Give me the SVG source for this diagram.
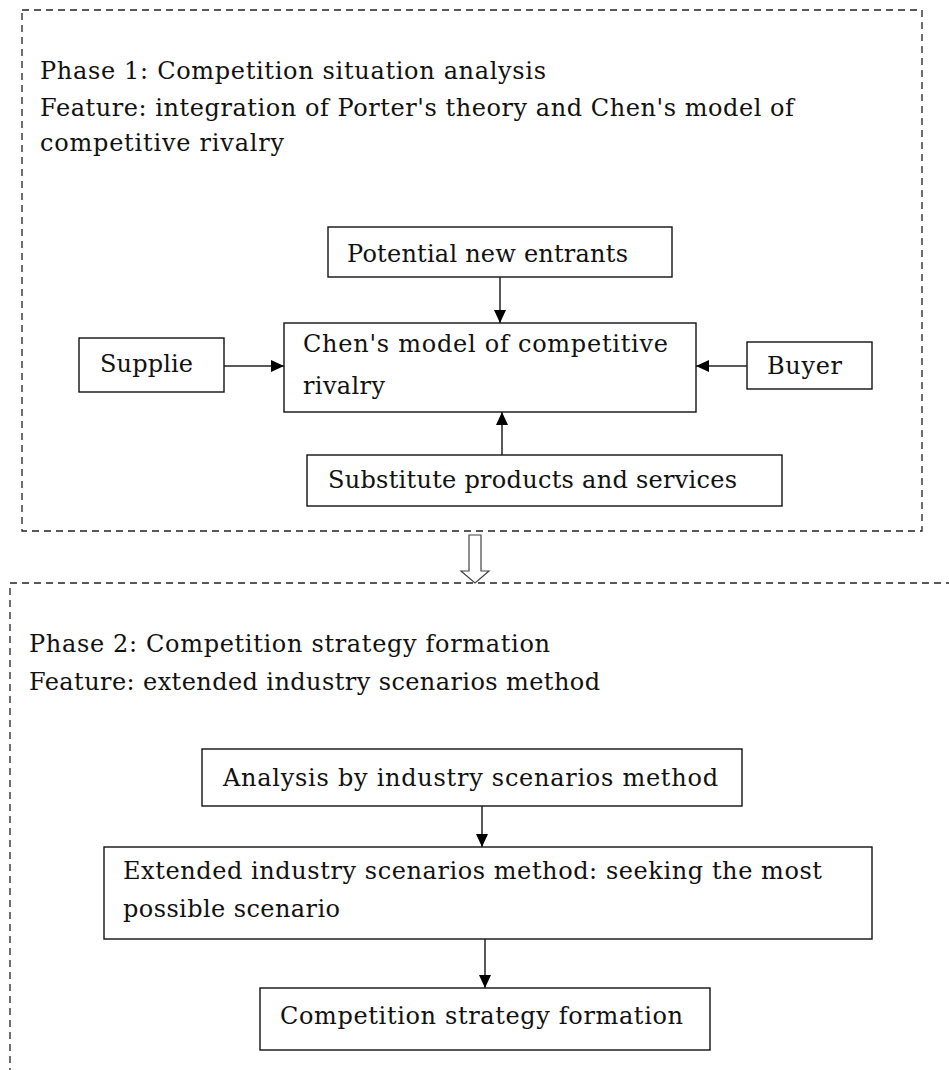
<svg xmlns="http://www.w3.org/2000/svg" width="949" height="1070" viewBox="0 0 949 1070">
<style>
text{font-family:"DejaVu Serif","Liberation Serif",serif;font-size:24px;fill:#111}
.box{fill:#fff;stroke:#111;stroke-width:1.4}
.dash{fill:none;stroke:#222;stroke-width:1.3;stroke-dasharray:7 5}
.conn{stroke:#222;stroke-width:1.5;fill:none}
</style>
<defs>
<marker id="ah" viewBox="0 0 13 12" refX="13" refY="6" markerWidth="13" markerHeight="12" markerUnits="userSpaceOnUse" orient="auto">
<path d="M0,0 L13,6 L0,12 Z" fill="#000"/>
</marker>
</defs>
<rect width="949" height="1070" fill="#fff"/>
<g id="phase1">
<rect class="dash" x="22" y="10" width="900" height="521"/>
<text x="40" y="79" textLength="506" lengthAdjust="spacing">Phase 1: Competition situation analysis</text>
<text x="40" y="116" textLength="754" lengthAdjust="spacing">Feature: integration of Porter's theory and Chen's model of</text>
<text x="40" y="151" textLength="244" lengthAdjust="spacing">competitive rivalry</text>
</g>
<g id="phase2">
<rect class="dash" x="10" y="583" width="980" height="520"/>
<text x="29" y="652" textLength="521" lengthAdjust="spacing">Phase 2: Competition strategy formation</text>
<text x="29" y="690" textLength="571" lengthAdjust="spacing">Feature: extended industry scenarios method</text>
</g>
<g id="entrants">
<rect class="box" x="328" y="227" width="344" height="50"/>
<text x="347" y="262" textLength="281" lengthAdjust="spacing">Potential new entrants</text>
</g>
<g id="chen">
<rect class="box" x="284" y="323" width="412" height="89"/>
<text x="303" y="352" textLength="365" lengthAdjust="spacing">Chen's model of competitive</text>
<text x="303" y="394" textLength="82" lengthAdjust="spacing">rivalry</text>
</g>
<g id="supplier">
<rect class="box" x="79" y="338" width="145" height="54"/>
<text x="100" y="372" textLength="93" lengthAdjust="spacing">Supplie</text>
</g>
<g id="buyer">
<rect class="box" x="747" y="342" width="125" height="47"/>
<text x="767" y="374" textLength="75" lengthAdjust="spacing">Buyer</text>
</g>
<g id="substitute">
<rect class="box" x="307" y="455" width="475" height="51"/>
<text x="328" y="488" textLength="409" lengthAdjust="spacing">Substitute products and services</text>
</g>
<g id="analysis">
<rect class="box" x="202" y="749" width="540" height="57"/>
<text x="223" y="786" textLength="495" lengthAdjust="spacing">Analysis by industry scenarios method</text>
</g>
<g id="extended">
<rect class="box" x="104" y="847" width="768" height="92"/>
<text x="123" y="879" textLength="699" lengthAdjust="spacing">Extended industry scenarios method: seeking the most</text>
<text x="123" y="917" textLength="217" lengthAdjust="spacing">possible scenario</text>
</g>
<g id="formation">
<rect class="box" x="260" y="988" width="450" height="62"/>
<text x="280" y="1024" textLength="403" lengthAdjust="spacing">Competition strategy formation</text>
</g>
<g id="connectors">
<line class="conn" x1="500" y1="277" x2="500" y2="323" marker-end="url(#ah)"/>
<line class="conn" x1="224" y1="366" x2="284" y2="366" marker-end="url(#ah)"/>
<line class="conn" x1="747" y1="366" x2="696" y2="366" marker-end="url(#ah)"/>
<line class="conn" x1="502" y1="455" x2="502" y2="412" marker-end="url(#ah)"/>
<line class="conn" x1="482" y1="806" x2="482" y2="847" marker-end="url(#ah)"/>
<line class="conn" x1="485" y1="939" x2="485" y2="988" marker-end="url(#ah)"/>
<polygon points="469,535 481,535 481,571 489,571 475,583 461,571 469,571" fill="#fff" stroke="#444" stroke-width="1.2"/>
</g>
</svg>
